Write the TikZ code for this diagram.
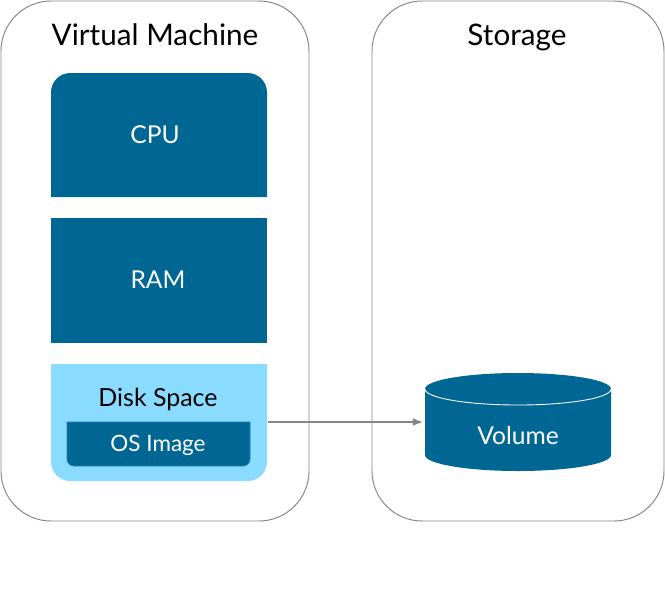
\documentclass[tikz,border=0pt]{standalone}
\usepackage{xcolor}
\usepackage{fontspec}
\setmainfont{Lato}
\usetikzlibrary{positioning,arrows.meta}
\definecolor{boxblue}{HTML}{006794}
\definecolor{diskblue}{HTML}{89DCFF}
\definecolor{linegray}{HTML}{858585}
\tikzset{
  panel/.style={draw=linegray,line width=0.55pt,rounded corners=28.5pt},
  title/.style={inner sep=0pt,anchor=base,font=\fontsize{16.9}{17}\selectfont},
  boxtext/.style={inner sep=0pt,anchor=base,text=white,font=\fontsize{14}{14}\selectfont},
}
\begin{document}
\begin{tikzpicture}[x=0.02cm,y=-0.02cm]
\useasboundingbox (0,0) rectangle (665,613);
% panels
\draw[panel] (1,1) rectangle (309,521);
\draw[panel] (372,1) rectangle (664,521);
\node[title] (vm) at (155,45) {Virtual Machine};
\node[title] (storage) at (517,45) {Storage};
% boxes
\fill[boxblue] (51,197) -- (51,150) [rounded corners=11pt] -- (51,73) -- (267,73) -- (267,150) [sharp corners] -- (267,197) -- cycle;
\fill[boxblue] (51,218) rectangle (267,343);
\fill[diskblue] (51,364) -- (267,364) -- (267,420) [rounded corners=11pt] -- (267,481) -- (51,481) -- (51,420) [sharp corners] -- cycle;
\draw[boxblue!85!white,fill=boxblue,line width=0.4pt] (67,422) -- (250,422) -- (250,440) [rounded corners=4pt] -- (250,466) -- (67,466) -- (67,440) [sharp corners] -- cycle;
\node[boxtext] (cpu) at (155,143) {CPU};
\node[boxtext] (ram) at (158,288) {RAM};
\node[inner sep=0pt,minimum width=122.4pt,minimum height=66.3pt] (disk) at (159,422) {};
\node[boxtext,text=black,font=\fontsize{14.2}{14}\selectfont] (disklabel) at (158,406) {Disk Space};
\node[boxtext,font=\fontsize{12.8}{13}\selectfont] (os) at (158,451) {OS Image};
% volume
\fill[boxblue] (425,389) arc[start angle=180,end angle=360,x radius=93,y radius=16] -- (611,455) arc[start angle=0,end angle=180,x radius=93,y radius=16] -- cycle;
\draw[white,line width=0.5pt] (425,389) arc[start angle=180,end angle=0,x radius=93,y radius=16];
\node[inner sep=0pt,minimum width=105.4pt,minimum height=55.6pt] (vol) at (518,422) {};
\node[boxtext] (vollabel) at (518,444) {Volume};
\draw[linegray,line width=1pt,-{Latex[length=6pt,width=4.5pt]},shorten >=1pt] (disk.east) ++(1,0) -- (vol.west);
\end{tikzpicture}
\end{document}
